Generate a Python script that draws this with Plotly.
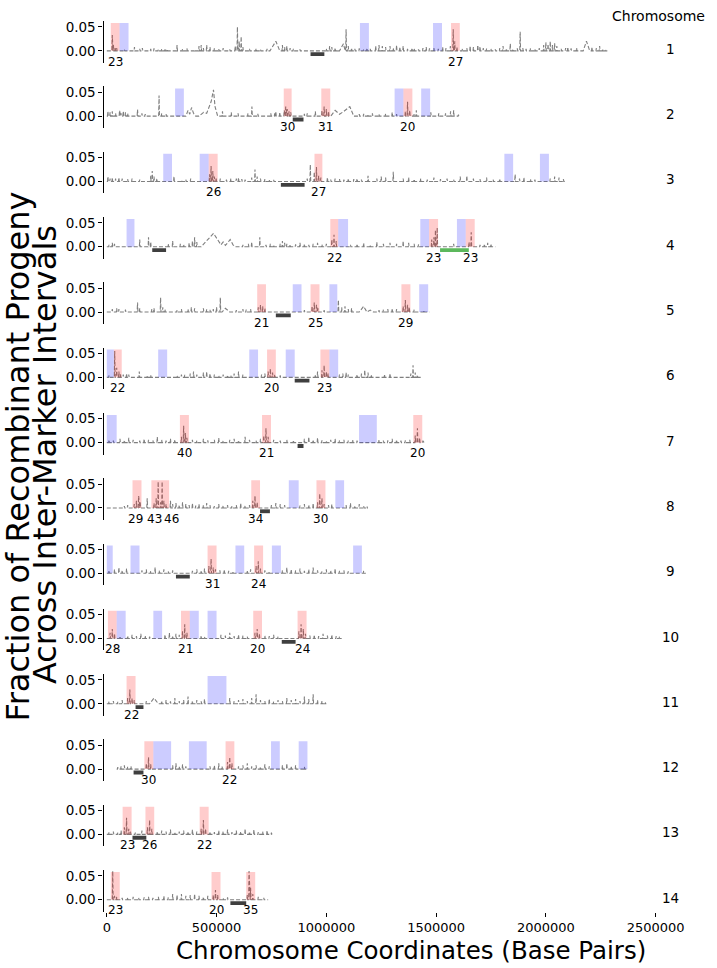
import plotly.graph_objects as go

# ---------------- data (positions in kb, values = fraction) ----------------
CHROMS = [str(i) for i in range(1, 15)]
CHROM_START = [0, 0, 0, 0, 0, 0, 0, 0, 0, 0, 0, 45, 0, 0]
CHROM_END = [2280, 1610, 2090, 1770, 1470, 1430, 1445, 1190, 1180, 1070, 1000, 915, 760, 735]
CENTROMERES = [(928, 991), (847, 896), (793, 901), (207, 270), (770, 838), (856, 923), (869, 896),
               (698, 743), (315, 378), (797, 860), (131, 167), (122, 167), (117, 180), (563, 635)]
GREEN_REGIONS = [(4, 1518, 1649)]

HOT = [
    [(18, 58, "23"), (1568, 1608, "27")],
    [(806, 842, "30"), (977, 1018, "31"), (1351, 1392, "20")],
    [(464, 505, "26"), (946, 982, "27")],
    [(1018, 1054, "22"), (1468, 1509, "23"), (1635, 1676, "23")],
    [(685, 725, "21"), (928, 969, "25"), (1342, 1383, "29")],
    [(32, 68, "22"), (730, 770, "20"), (973, 1014, "23")],
    [(333, 374, "40"), (707, 748, "21"), (1396, 1437, "20")],
    [(117, 158, "29"), (203, 243, "43"), (243, 284, "46"), (658, 698, "34"), (955, 996, "30")],
    [(459, 500, "31"), (671, 712, "24")],
    [(5, 45, "28"), (338, 378, "21"), (667, 707, "20"), (869, 910, "24")],
    [(90, 131, "22")],
    [(171, 212, "30"), (541, 581, "22")],
    [(72, 113, "23"), (176, 216, "26"), (423, 464, "22")],
    [(18, 59, "23"), (477, 518, "20"), (635, 676, "35")],
]
BLUE = [
    [(58, 99), (1153, 1194), (1486, 1527)],
    [(311, 351), (1311, 1351), (1432, 1473)],
    [(257, 297), (423, 464), (1811, 1851), (1973, 2014)],
    [(90, 126), (1054, 1099), (1428, 1468), (1595, 1635)],
    [(847, 887), (1014, 1050), (1423, 1464)],
    [(0, 32), (234, 275), (649, 689), (815, 856), (1014, 1054)],
    [(0, 45), (1149, 1230)],
    [(829, 874), (1041, 1081)],
    [(0, 27), (108, 149), (586, 626), (752, 793), (1122, 1162)],
    [(45, 86), (212, 252), (378, 419), (459, 500)],
    [(459, 545)],
    [(212, 293), (374, 455), (748, 788), (874, 914)],
    [],
    [],
]

C1_SPIKES = [(25, 0.033), (30, 0.012), (38, 0.008), (45, 0.006), (80, 0.003), (126, 0.008), (150, 0.004),
             (162, 0.006), (200, 0.004), (215, 0.005), (235, 0.003), (250, 0.004), (265, 0.005), (275, 0.004),
             (320, 0.012), (345, 0.004), (365, 0.005), (400, 0.003), (420, 0.01), (430, 0.012), (440, 0.006),
             (455, 0.012), (470, 0.008), (490, 0.005), (510, 0.004), (530, 0.006), (560, 0.003), (585, 0.01),
             (595, 0.05), (603, 0.02), (612, 0.03), (620, 0.008), (650, 0.004), (680, 0.005), (700, 0.003),
             (730, 0.004), (800, 0.012), (810, 0.008), (820, 0.01), (835, 0.006), (850, 0.004), (880, 0.003),
             (1000, 0.004), (1015, 0.01), (1025, 0.008), (1040, 0.006), (1053, 0.003), (1090, 0.045),
             (1100, 0.01), (1115, 0.006), (1130, 0.004), (1150, 0.005), (1170, 0.003), (1185, 0.006),
             (1200, 0.004), (1225, 0.01), (1240, 0.012), (1255, 0.01), (1270, 0.008), (1290, 0.01),
             (1305, 0.006), (1320, 0.012), (1335, 0.008), (1350, 0.01), (1370, 0.004), (1390, 0.006),
             (1400, 0.005), (1420, 0.003), (1440, 0.006), (1455, 0.008), (1470, 0.005), (1490, 0.006),
             (1510, 0.004), (1530, 0.008), (1545, 0.006), (1565, 0.01), (1578, 0.045), (1585, 0.02),
             (1595, 0.008), (1620, 0.004), (1640, 0.006), (1655, 0.01), (1670, 0.008), (1690, 0.012),
             (1700, 0.009), (1715, 0.006), (1730, 0.005), (1750, 0.004), (1770, 0.003), (1790, 0.006),
             (1805, 0.01), (1820, 0.005), (1838, 0.015), (1850, 0.004), (1870, 0.005), (1883, 0.04),
             (1895, 0.006), (1910, 0.004), (1930, 0.005), (1950, 0.004), (1970, 0.006), (1990, 0.012),
             (2000, 0.018), (2010, 0.014), (2020, 0.02), (2030, 0.012), (2040, 0.016), (2050, 0.01),
             (2070, 0.004), (2090, 0.006), (2100, 0.008), (2115, 0.005), (2140, 0.006), (2210, 0.008),
             (2230, 0.006), (2245, 0.01), (2260, 0.004), (2275, 0.003)]
C1_RIDGES = [(743, 0.0), (770, 0.02), (788, 0.0), (1060, 0.0), (1078, 0.015), (1086, 0.0),
             (2170, 0.0), (2185, 0.02), (2200, 0.0)]

C2_SPIKES = [(5, 0.01), (15, 0.008), (25, 0.01), (40, 0.006), (58, 0.012), (65, 0.006), (75, 0.01),
             (85, 0.008), (95, 0.006), (140, 0.014), (160, 0.006), (175, 0.004), (238, 0.043), (250, 0.006),
             (270, 0.004), (527, 0.01), (567, 0.008), (598, 0.006), (643, 0.006), (661, 0.02), (688, 0.005),
             (747, 0.006), (765, 0.006), (770, 0.01), (788, 0.008), (808, 0.012), (815, 0.02), (822, 0.015),
             (830, 0.01), (838, 0.008), (900, 0.005), (913, 0.006), (950, 0.01), (980, 0.012), (990, 0.02),
             (1000, 0.015), (1010, 0.01), (1150, 0.004), (1170, 0.005), (1190, 0.004), (1210, 0.006),
             (1240, 0.004), (1270, 0.005), (1300, 0.008), (1320, 0.004), (1360, 0.01), (1370, 0.03),
             (1380, 0.012), (1400, 0.005), (1410, 0.012), (1476, 0.008), (1512, 0.006), (1543, 0.006),
             (1566, 0.01), (1580, 0.012), (1602, 0.003)]
C2_RIDGES = [(360, 0.0), (370, 0.012), (378, 0.004), (386, 0.018), (395, 0.006), (405, 0.0),
             (420, 0.0), (441, 0.008), (455, 0.006), (475, 0.03), (486, 0.055), (493, 0.02), (505, 0.0),
             (1020, 0.0), (1040, 0.012), (1060, 0.004), (1080, 0.01), (1107, 0.02), (1125, 0.0)]

C3_SPIKES = [(5, 0.01), (15, 0.006), (25, 0.008), (40, 0.006), (55, 0.008), (70, 0.006), (95, 0.005),
             (115, 0.006), (150, 0.004), (200, 0.012), (207, 0.022), (215, 0.01), (228, 0.006), (306, 0.01),
             (340, 0.003), (360, 0.004), (382, 0.006), (468, 0.015), (475, 0.032), (483, 0.022), (490, 0.01),
             (498, 0.008), (517, 0.006), (545, 0.004), (565, 0.006), (590, 0.006), (600, 0.008), (615, 0.005),
             (630, 0.004), (660, 0.008), (675, 0.025), (685, 0.01), (700, 0.006), (720, 0.005), (740, 0.004),
             (760, 0.003), (913, 0.006), (927, 0.035), (945, 0.02), (955, 0.03), (965, 0.012), (975, 0.008),
             (1005, 0.008), (1020, 0.004), (1040, 0.006), (1060, 0.005), (1080, 0.004), (1100, 0.006),
             (1125, 0.005), (1140, 0.006), (1160, 0.004), (1190, 0.012), (1230, 0.006), (1250, 0.01),
             (1270, 0.008), (1305, 0.02), (1350, 0.006), (1375, 0.008), (1400, 0.005), (1430, 0.006),
             (1460, 0.004), (1490, 0.008), (1520, 0.005), (1550, 0.006), (1580, 0.004), (1610, 0.01),
             (1640, 0.012), (1670, 0.006), (1700, 0.005), (1730, 0.008), (1760, 0.004), (1790, 0.006),
             (1860, 0.015), (1880, 0.006), (1900, 0.008), (1930, 0.005), (1950, 0.004), (2020, 0.006),
             (2040, 0.01), (2060, 0.008), (2080, 0.005)]
C3_RIDGES = []

C4_SPIKES = [(10, 0.004), (25, 0.008), (35, 0.006), (150, 0.015), (190, 0.02), (200, 0.01), (280, 0.006),
             (300, 0.012), (335, 0.006), (350, 0.005), (375, 0.008), (390, 0.012), (400, 0.02), (410, 0.01),
             (620, 0.004), (645, 0.006), (660, 0.01), (697, 0.02), (725, 0.004), (745, 0.006), (760, 0.004),
             (790, 0.006), (800, 0.012), (810, 0.008), (820, 0.006), (835, 0.005), (860, 0.005), (880, 0.008),
             (900, 0.006), (920, 0.004), (940, 0.006), (960, 0.008), (980, 0.005), (1000, 0.006),
             (1025, 0.015), (1035, 0.025), (1045, 0.012), (1110, 0.004), (1140, 0.006), (1170, 0.008),
             (1200, 0.004), (1230, 0.01), (1260, 0.006), (1290, 0.008), (1320, 0.006), (1350, 0.012),
             (1375, 0.008), (1400, 0.006), (1420, 0.005), (1480, 0.015), (1490, 0.02), (1497, 0.035),
             (1505, 0.04), (1580, 0.006), (1650, 0.01), (1660, 0.03), (1700, 0.004), (1720, 0.006),
             (1735, 0.008), (1750, 0.006)]
C4_RIDGES = [(430, 0.0), (486, 0.028), (520, 0.004), (530, 0.01), (540, 0.003), (550, 0.008),
             (562, 0.015), (575, 0.004), (585, 0.0)]

C5_SPIKES = [(25, 0.006), (45, 0.008), (55, 0.006), (85, 0.005), (140, 0.02), (150, 0.008), (205, 0.006),
             (215, 0.008), (245, 0.03), (255, 0.01), (265, 0.006), (320, 0.004), (340, 0.006), (370, 0.006),
             (385, 0.01), (400, 0.008), (440, 0.008), (455, 0.006), (470, 0.005), (485, 0.006), (500, 0.01),
             (517, 0.03), (590, 0.004), (620, 0.006), (635, 0.005), (655, 0.006), (690, 0.01), (700, 0.015),
             (710, 0.012), (720, 0.008), (900, 0.004), (935, 0.012), (945, 0.02), (955, 0.015), (962, 0.008),
             (990, 0.004), (1055, 0.025), (1070, 0.01), (1085, 0.012), (1100, 0.006), (1115, 0.008),
             (1240, 0.004), (1260, 0.005), (1280, 0.006), (1300, 0.008), (1320, 0.006), (1350, 0.012),
             (1360, 0.025), (1370, 0.015), (1378, 0.01), (1400, 0.005), (1444, 0.004)]
C5_RIDGES = [(525, 0.0), (540, 0.008), (550, 0.004), (560, 0.0),
             (1150, 0.0), (1170, 0.012), (1185, 0.0), (1200, 0.004), (1215, 0.0)]

C6_SPIKES = [(10, 0.004), (36, 0.055), (45, 0.02), (55, 0.012), (62, 0.008), (75, 0.006), (90, 0.008),
             (100, 0.006), (148, 0.012), (185, 0.004), (200, 0.005), (320, 0.004), (340, 0.006), (355, 0.005),
             (380, 0.008), (395, 0.012), (410, 0.006), (440, 0.01), (455, 0.012), (470, 0.008), (490, 0.006),
             (510, 0.004), (530, 0.006), (550, 0.005), (565, 0.004), (580, 0.008), (600, 0.012), (620, 0.006),
             (705, 0.006), (720, 0.008), (735, 0.012), (745, 0.018), (755, 0.01), (765, 0.006), (790, 0.004),
             (950, 0.006), (960, 0.012), (980, 0.015), (990, 0.025), (1000, 0.012), (1008, 0.008),
             (1060, 0.006), (1075, 0.008), (1090, 0.01), (1100, 0.006), (1140, 0.006), (1160, 0.008),
             (1175, 0.015), (1190, 0.01), (1205, 0.006), (1265, 0.006), (1290, 0.008), (1385, 0.008),
             (1395, 0.025), (1405, 0.01), (1415, 0.005)]
C6_RIDGES = []

C7_SPIKES = [(10, 0.006), (30, 0.004), (60, 0.008), (80, 0.005), (100, 0.01), (120, 0.006), (150, 0.004),
             (170, 0.008), (190, 0.006), (210, 0.005), (230, 0.012), (250, 0.006), (270, 0.004), (290, 0.008),
             (310, 0.006), (340, 0.012), (350, 0.035), (358, 0.02), (365, 0.01), (390, 0.006), (410, 0.004),
             (440, 0.008), (460, 0.005), (490, 0.006), (510, 0.01), (530, 0.004), (560, 0.006), (580, 0.008),
             (600, 0.005), (630, 0.012), (650, 0.006), (680, 0.004), (700, 0.008), (715, 0.015), (725, 0.03),
             (735, 0.012), (760, 0.006), (790, 0.004), (820, 0.006), (850, 0.005), (900, 0.008), (920, 0.012),
             (940, 0.006), (960, 0.01), (980, 0.005), (1000, 0.004), (1020, 0.006), (1040, 0.008),
             (1060, 0.005), (1080, 0.006), (1100, 0.004), (1120, 0.006), (1140, 0.004), (1240, 0.006),
             (1260, 0.004), (1280, 0.005), (1300, 0.008), (1320, 0.006), (1340, 0.004), (1360, 0.005),
             (1380, 0.006), (1405, 0.015), (1415, 0.03), (1425, 0.01), (1440, 0.004)]
C7_RIDGES = []

C8_SPIKES = [(80, 0.004), (95, 0.006), (125, 0.008), (135, 0.015), (145, 0.025), (152, 0.012), (184, 0.02),
             (215, 0.01), (225, 0.02), (234, 0.055), (245, 0.012), (252, 0.055), (260, 0.015), (270, 0.008),
             (290, 0.015), (300, 0.008), (315, 0.01), (330, 0.006), (345, 0.012), (360, 0.008), (375, 0.006),
             (390, 0.01), (405, 0.005), (420, 0.008), (440, 0.006), (455, 0.01), (470, 0.006), (490, 0.004),
             (510, 0.008), (530, 0.005), (550, 0.006), (570, 0.004), (590, 0.006), (610, 0.01), (630, 0.005),
             (650, 0.006), (665, 0.015), (675, 0.025), (685, 0.012), (750, 0.006), (770, 0.01), (790, 0.008),
             (810, 0.006), (880, 0.005), (900, 0.008), (920, 0.006), (940, 0.01), (960, 0.012), (970, 0.03),
             (980, 0.02), (990, 0.008), (1010, 0.006), (1025, 0.008), (1090, 0.006), (1110, 0.01),
             (1130, 0.005), (1150, 0.008), (1170, 0.004), (1185, 0.003)]
C8_RIDGES = []

C9_SPIKES = [(10, 0.006), (35, 0.008), (55, 0.012), (70, 0.006), (90, 0.01), (160, 0.006), (180, 0.008),
             (200, 0.005), (220, 0.012), (240, 0.006), (260, 0.008), (280, 0.004), (300, 0.006), (390, 0.005),
             (410, 0.008), (430, 0.006), (445, 0.01), (465, 0.015), (475, 0.03), (485, 0.012), (495, 0.008),
             (515, 0.006), (535, 0.008), (555, 0.005), (575, 0.004), (640, 0.006), (655, 0.008), (680, 0.015),
             (690, 0.025), (700, 0.01), (720, 0.006), (740, 0.004), (800, 0.006), (820, 0.012), (840, 0.008),
             (860, 0.006), (880, 0.01), (900, 0.005), (920, 0.008), (940, 0.012), (960, 0.006), (980, 0.004),
             (1000, 0.008), (1020, 0.006), (1040, 0.01), (1060, 0.005), (1080, 0.006), (1100, 0.004),
             (1170, 0.005)]
C9_RIDGES = []

C10_SPIKES = [(15, 0.012), (25, 0.02), (35, 0.01), (60, 0.005), (95, 0.006), (115, 0.008), (135, 0.005),
              (155, 0.01), (175, 0.006), (195, 0.004), (265, 0.008), (285, 0.012), (300, 0.006), (315, 0.01),
              (330, 0.008), (345, 0.015), (355, 0.03), (365, 0.012), (430, 0.006), (445, 0.004), (520, 0.008),
              (540, 0.006), (560, 0.012), (580, 0.005), (600, 0.008), (620, 0.006), (640, 0.004), (675, 0.012),
              (685, 0.02), (695, 0.01), (720, 0.006), (740, 0.005), (760, 0.008), (780, 0.004), (875, 0.015),
              (885, 0.03), (895, 0.02), (905, 0.01), (925, 0.006), (945, 0.008), (965, 0.005), (985, 0.01),
              (1005, 0.006), (1025, 0.008), (1045, 0.005), (1060, 0.004)]
C10_RIDGES = []

C11_SPIKES = [(10, 0.005), (30, 0.006), (50, 0.004), (70, 0.008), (95, 0.012), (105, 0.03), (115, 0.012),
              (125, 0.008), (180, 0.006), (250, 0.006), (270, 0.008), (290, 0.005), (310, 0.012), (330, 0.006),
              (350, 0.008), (370, 0.015), (390, 0.006), (410, 0.008), (430, 0.005), (445, 0.01), (560, 0.012),
              (580, 0.006), (600, 0.008), (620, 0.01), (640, 0.006), (660, 0.012), (680, 0.02), (700, 0.008),
              (720, 0.006), (740, 0.01), (760, 0.005), (780, 0.008), (800, 0.006), (820, 0.012), (840, 0.008),
              (860, 0.01), (880, 0.006), (900, 0.015), (920, 0.01), (940, 0.02), (960, 0.008), (980, 0.006),
              (995, 0.004)]
C11_RIDGES = [(195, 0.0), (215, 0.012), (235, 0.0)]

C12_SPIKES = [(50, 0.004), (65, 0.006), (80, 0.008), (95, 0.005), (110, 0.006), (180, 0.012), (190, 0.025),
              (200, 0.01), (300, 0.008), (315, 0.012), (330, 0.006), (345, 0.01), (360, 0.006), (470, 0.006),
              (490, 0.008), (510, 0.012), (525, 0.006), (550, 0.015), (560, 0.025), (570, 0.012), (600, 0.006),
              (620, 0.008), (640, 0.012), (660, 0.006), (680, 0.008), (700, 0.005), (720, 0.01), (740, 0.006),
              (800, 0.008), (820, 0.012), (840, 0.006), (860, 0.008), (900, 0.005)]
C12_RIDGES = []

C13_SPIKES = [(10, 0.005), (30, 0.006), (50, 0.004), (65, 0.008), (80, 0.015), (90, 0.035), (100, 0.012),
              (108, 0.006), (130, 0.004), (160, 0.008), (185, 0.015), (195, 0.03), (205, 0.012), (230, 0.006),
              (250, 0.008), (270, 0.006), (290, 0.01), (310, 0.005), (330, 0.006), (350, 0.008), (370, 0.006),
              (390, 0.01), (410, 0.006), (430, 0.012), (440, 0.03), (450, 0.012), (470, 0.006), (490, 0.005),
              (510, 0.008), (530, 0.006), (550, 0.01), (570, 0.005), (590, 0.008), (610, 0.006), (630, 0.012),
              (650, 0.006), (670, 0.01), (690, 0.005), (710, 0.006), (730, 0.008), (750, 0.004)]
C13_RIDGES = []

C14_SPIKES = [(27, 0.06), (35, 0.008), (45, 0.006), (70, 0.004), (95, 0.005), (120, 0.006), (145, 0.004),
              (170, 0.005), (190, 0.006), (210, 0.004), (235, 0.006), (260, 0.008), (280, 0.005), (300, 0.012),
              (320, 0.01), (340, 0.012), (360, 0.008), (380, 0.01), (400, 0.012), (420, 0.008), (440, 0.006),
              (460, 0.008), (485, 0.01), (495, 0.02), (505, 0.01), (530, 0.004), (550, 0.005), (640, 0.01),
              (648, 0.06), (655, 0.025), (665, 0.012), (690, 0.006), (715, 0.004)]
C14_RIDGES = []

SPIKES = [C1_SPIKES, C2_SPIKES, C3_SPIKES, C4_SPIKES, C5_SPIKES, C6_SPIKES, C7_SPIKES,
          C8_SPIKES, C9_SPIKES, C10_SPIKES, C11_SPIKES, C12_SPIKES, C13_SPIKES, C14_SPIKES]
RIDGES = [C1_RIDGES, C2_RIDGES, C3_RIDGES, C4_RIDGES, C5_RIDGES, C6_RIDGES, C7_RIDGES,
          C8_RIDGES, C9_RIDGES, C10_RIDGES, C11_RIDGES, C12_RIDGES, C13_RIDGES, C14_RIDGES]

X_TICKS = [0, 500000, 1000000, 1500000, 2000000, 2500000]
X_TICK_TEXT = ["0", "500000", "1000000", "1500000", "2000000", "2500000"]

# ---------------- geometry / style ----------------
W, H = 717, 968
FONT = "DejaVu Sans"
PX_PER_BP = 555.0 / 2500000.0
X0_PX = 107.0
XMIN, XMAX = -15000, 2600000
YMIN, YMAX = -0.025, 0.062
Z0, DZ, PPU = 48.0, 65.5, 480.0
HW = 1.8  # half width (kb) of a spike drawing
LABEL_NUDGE_PX = {(8, "29"): -2.0, (8, "43"): -1.0, (8, "46"): 7.0}

xl = (X0_PX + XMIN * PX_PER_BP) / W
xr = (X0_PX + XMAX * PX_PER_BP) / W

fig = go.Figure()
layout = dict(width=W, height=H, margin=dict(l=0, r=0, t=0, b=0),
              paper_bgcolor="white", plot_bgcolor="white", showlegend=False,
              font=dict(family=FONT, color="black"))
shapes, annotations = [], []

for i in range(14):
    n = i + 1
    sfx = "" if n == 1 else str(n)
    z = Z0 + DZ * i
    top = z - YMAX * PPU
    bot = z - YMIN * PPU
    layout["xaxis" + sfx] = dict(domain=[xl, xr], range=[XMIN, XMAX], anchor="y" + sfx,
                                 showgrid=False, zeroline=False, showline=False,
                                 showticklabels=(n == 14), ticks="outside" if n == 14 else "",
                                 tickvals=X_TICKS, ticktext=X_TICK_TEXT, ticklen=4,
                                 tickcolor="black", tickfont=dict(size=13, family=FONT))
    layout["yaxis" + sfx] = dict(domain=[1 - bot / H, 1 - top / H], range=[YMIN, YMAX], anchor="x" + sfx,
                                 showgrid=False, zeroline=False, showline=True, linecolor="black",
                                 linewidth=1.2, ticks="outside", ticklen=4, tickcolor="black",
                                 tickvals=[0, 0.05], ticktext=["0.00", "0.05"],
                                 tickfont=dict(size=13.5, family=FONT))
    pts = [(CHROM_START[i], 0.0), (CHROM_END[i], 0.0)]
    for p, h in SPIKES[i]:
        pts += [(p - HW, 0.0), (p, h), (p + HW, 0.0)]
    pts += list(RIDGES[i])
    pts.sort(key=lambda t: t[0])
    fig.add_trace(go.Scatter(x=[p * 1000 for p, _ in pts], y=[v for _, v in pts],
                             xaxis="x" + sfx, yaxis="y" + sfx, mode="lines",
                             line=dict(color="#7f7f7f", width=1.1, dash="4px,2px"),
                             hoverinfo="skip"))
    xr_ref, yr_ref = "x" + sfx, "y" + sfx
    for a, b, lab in HOT[i]:
        shapes.append(dict(type="rect", xref=xr_ref, yref=yr_ref, x0=a * 1000, x1=b * 1000, y0=0, y1=0.058,
                           fillcolor="red", opacity=0.2, line=dict(width=0), layer="above"))
        nudge = LABEL_NUDGE_PX.get((n, lab), 0.0) / PX_PER_BP
        annotations.append(dict(xref=xr_ref, yref=yr_ref, x=(a + b) / 2 * 1000 + nudge, y=-0.0225, text=lab,
                                showarrow=False, font=dict(size=12, family=FONT, color="black"),
                                xanchor="center", yanchor="middle"))
    for a, b in BLUE[i]:
        shapes.append(dict(type="rect", xref=xr_ref, yref=yr_ref, x0=a * 1000, x1=b * 1000, y0=0, y1=0.058,
                           fillcolor="blue", opacity=0.2, line=dict(width=0), layer="above"))
    ca, cb = CENTROMERES[i]
    shapes.append(dict(type="rect", xref=xr_ref, yref=yr_ref, x0=ca * 1000, x1=cb * 1000, y0=-0.011, y1=-0.003,
                       fillcolor="#3f3f3f", line=dict(width=0), layer="above"))
    for c, a, b in GREEN_REGIONS:
        if c == n:
            shapes.append(dict(type="rect", xref=xr_ref, yref=yr_ref, x0=a * 1000, x1=b * 1000,
                               y0=-0.011, y1=-0.003, fillcolor="#5cb85c", line=dict(width=0), layer="above"))
    annotations.append(dict(xref="paper", yref="paper", x=677 / W, y=1 - (z - 2) / H, text=CHROMS[i],
                            showarrow=False, font=dict(size=13.5, family=FONT, color="black"),
                            xanchor="center", yanchor="middle"))

annotations.append(dict(xref="paper", yref="paper", x=665 / W, y=1 - 13 / H, text="Chromosome",
                        showarrow=False, font=dict(size=14, family=FONT, color="black"),
                        xanchor="center", yanchor="middle"))
annotations.append(dict(xref="paper", yref="paper", x=415 / W, y=1 - 950 / H,
                        text="Chromosome Coordinates (Base Pairs)", showarrow=False,
                        font=dict(size=24.5, family=FONT, color="black"), xanchor="center", yanchor="middle"))
annotations.append(dict(xref="paper", yref="paper", x=17 / W, y=1 - 455 / H,
                        text="Fraction of Recombinant Progeny", showarrow=False, textangle=-90,
                        font=dict(size=32, family=FONT, color="black"), xanchor="center", yanchor="middle"))
annotations.append(dict(xref="paper", yref="paper", x=44 / W, y=1 - 453 / H,
                        text="Across Inter-Marker Intervals", showarrow=False, textangle=-90,
                        font=dict(size=32, family=FONT, color="black"), xanchor="center", yanchor="middle"))

layout["shapes"] = shapes
layout["annotations"] = annotations
fig.update_layout(**layout)
fig.write_html("out.html", config={"displayModeBar": False},
               post_script="document.body.style.margin='0px';")
